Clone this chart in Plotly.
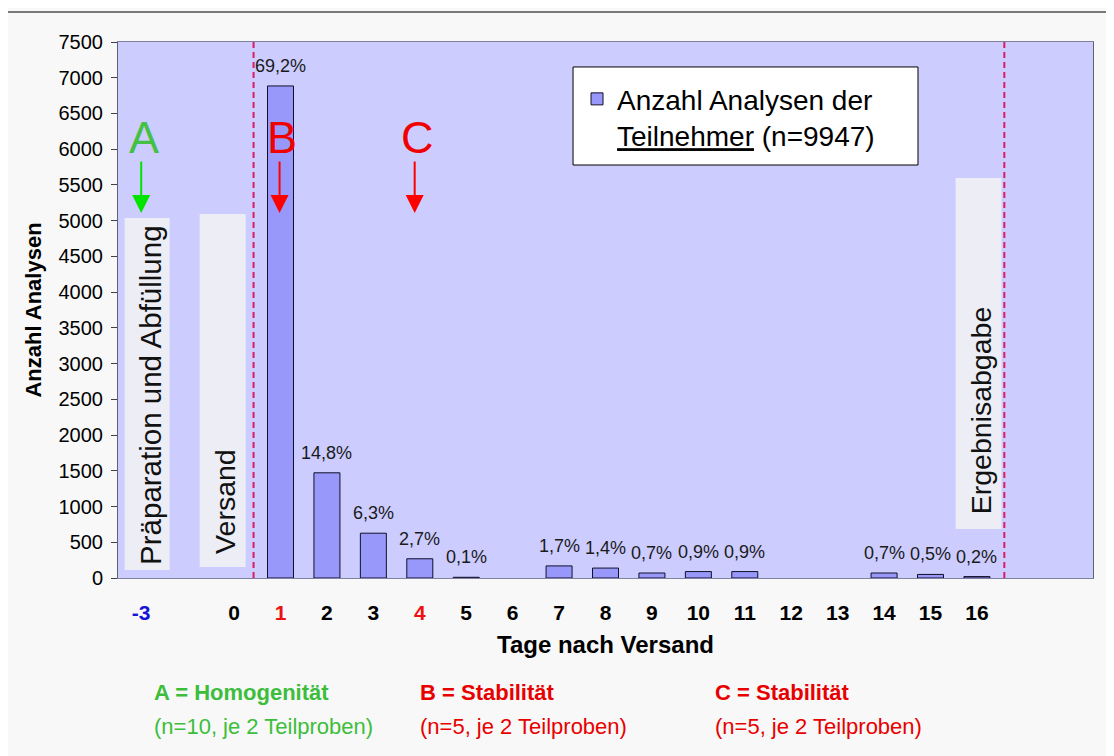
import plotly.graph_objects as go

# ---------------- data ----------------
categories = ["-3", "", "0", "1", "2", "3", "4", "5", "6", "7", "8", "9",
              "10", "11", "12", "13", "14", "15", "16", " ", "  "]
days = ["1", "2", "3", "4", "5", "6", "7", "8", "9", "10", "11", "12", "13", "14", "15", "16"]
counts = [6885, 1472, 627, 269, 10, None, 169, 139, 70, 90, 90, None, None, 70, 50, 20]
pct_labels = ["69,2%", "14,8%", "6,3%", "2,7%", "0,1%", "", "1,7%", "1,4%", "0,7%",
              "0,9%", "0,9%", "", "", "0,7%", "0,5%", "0,2%"]
tick_colors = {"-3": "#1414DC", "1": "#EE1111", "4": "#EE1111"}
series_name = "Anzahl Analysen der<br><u>Teilnehmer</u> (n=9947)"

FONT = "Liberation Sans, Arial, sans-serif"

x_pos = [categories.index(d) for d in days]
tickvals = [i for i, c in enumerate(categories) if c.strip()]
ticktext = []
for i in tickvals:
    c = categories[i]
    col = tick_colors.get(c, "#000000")
    ticktext.append(f'<span style="color:{col}">{c}</span>')

fig = go.Figure()
fig.add_trace(go.Bar(
    x=x_pos, y=counts, width=0.56, name=series_name,
    marker=dict(color="#9898FA", line=dict(color="#10102A", width=1)),
    showlegend=True,
))

annotations = []
# percentage labels
for xp, v, t in zip(x_pos, counts, pct_labels):
    if t:
        annotations.append(dict(x=xp, y=v, text=t, showarrow=False, yanchor="middle",
                                yshift=20, font=dict(family=FONT, size=18, color="#1a1a1a")))

# letters and arrows
for txt, xs, lcol, acol in [("A", 0.0, "#44C044", "#00E400"),
                            ("B", 2.98, "#F00000", "#FF0000"),
                            ("C", 5.89, "#F00000", "#FF0000")]:
    annotations.append(dict(x=xs + 0.05, y=6157, text=txt, showarrow=False,
                            xanchor="center", yanchor="middle",
                            font=dict(family=FONT, size=45, color=lcol)))
    annotations.append(dict(x=xs, y=5107, ax=0, ay=-53, text="", showarrow=True,
                            arrowhead=2, arrowsize=1.8, arrowwidth=2, arrowcolor=acol))

# vertical labels in boxes
box_col = "#EDEDF6"
boxes = [("Präparation und Abfüllung", -0.357, 0.612, 112, 5037, 7, 29.5),
         ("Versand", 1.258, 2.249, 154, 5093, 15, 28.5),
         ("Ergebnisabgabe", 17.54, 18.53, 686, 5597, 17, 28.5)]
shapes = []
for txt, x0, x1, y0, y1, pad, fs in boxes:
    shapes.append(dict(type="rect", xref="x", yref="y", x0=x0, x1=x1, y0=y0, y1=y1,
                       fillcolor=box_col, line=dict(width=0), layer="below"))
    annotations.append(dict(x=(x0 + x1) / 2 + 0.06, y=y0, yshift=pad - 4, text=txt, textangle=-90,
                            showarrow=False, xanchor="center", yanchor="bottom",
                            font=dict(family=FONT, size=fs, color="#111111")))

# dashed red lines
for xs in [2.42, 18.59]:
    shapes.append(dict(type="line", xref="x", yref="paper", x0=xs, x1=xs, y0=0, y1=1,
                       line=dict(color="#DC1C64", width=2, dash="6px,4px")))

# legend box
shapes.append(dict(type="rect", xref="paper", yref="paper", x0=0.4667, x1=0.8205,
                   y0=0.7705, y1=0.9534, fillcolor="white",
                   line=dict(color="#000000", width=1), layer="above"))

# outer frame
shapes.append(dict(type="rect", xref="paper", yref="paper", x0=-0.1138, x1=1.05,
                   y0=-0.40, y1=1.056, line=dict(color="#505050", width=1.5),
                   fillcolor="rgba(0,0,0,0)", layer="below"))

# bottom explanation texts
bottom = [("<b>A = Homogenität</b>", "(n=10, je 2 Teilproben)", 152, "#3CBE3C"),
          ("<b>B = Stabilität</b>", "(n=5, je 2 Teilproben)", 418, "#E80000"),
          ("<b>C = Stabilität</b>", "(n=5, je 2 Teilproben)", 713, "#E80000")]
for l1, l2, px, col in bottom:
    xp = (px - 118) / 975
    annotations.append(dict(xref="paper", yref="paper", x=xp, y=(578 - 692) / 536, text=l1,
                            showarrow=False, xanchor="left", yanchor="middle",
                            font=dict(family=FONT, size=22, color=col)))
    annotations.append(dict(xref="paper", yref="paper", x=xp, y=(578 - 726) / 536, text=l2,
                            showarrow=False, xanchor="left", yanchor="middle",
                            font=dict(family=FONT, size=22, color=col)))

# page body has an 8px margin -> shrink figure and margins so the plot sits where the reference has it
fig.update_layout(
    width=1106, height=748,
    margin=dict(l=110, r=21, t=34, b=178),
    paper_bgcolor="#F8F8F8", plot_bgcolor="#CCCCFF",
    font=dict(family=FONT, color="#000000"),
    bargap=0.4,
    xaxis=dict(range=[-0.5, 20.5], tickmode="array", tickvals=tickvals, ticktext=ticktext,
               tickfont=dict(family=FONT, size=21, color="#000000", weight="bold"),
               ticks="", ticklabelstandoff=16, showgrid=False, zeroline=False,
               showline=True, linecolor="#8080A0", linewidth=1, mirror=True,
               title=dict(text="<b>Tage nach Versand</b>", standoff=12,
                          font=dict(family=FONT, size=24, color="#000000"))),
    yaxis=dict(range=[0, 7500], dtick=500, tickmode="linear", tick0=0,
               tickfont=dict(family=FONT, size=20, color="#000000"),
               ticks="outside", ticklen=6, tickcolor="#404050", ticklabelstandoff=4,
               showgrid=False, zeroline=False,
               showline=True, linecolor="#606070", linewidth=1, mirror=True,
               title=dict(text="<b>Anzahl Analysen</b>", standoff=10,
                          font=dict(family=FONT, size=22, color="#000000"))),
    legend=dict(x=0.4708, y=0.940, xanchor="left", yanchor="top",
                bgcolor="rgba(0,0,0,0)", borderwidth=0, valign="top",
                font=dict(family=FONT, size=28, color="#000000")),
    annotations=annotations,
    shapes=shapes,
)

fig.write_html("out.html")
